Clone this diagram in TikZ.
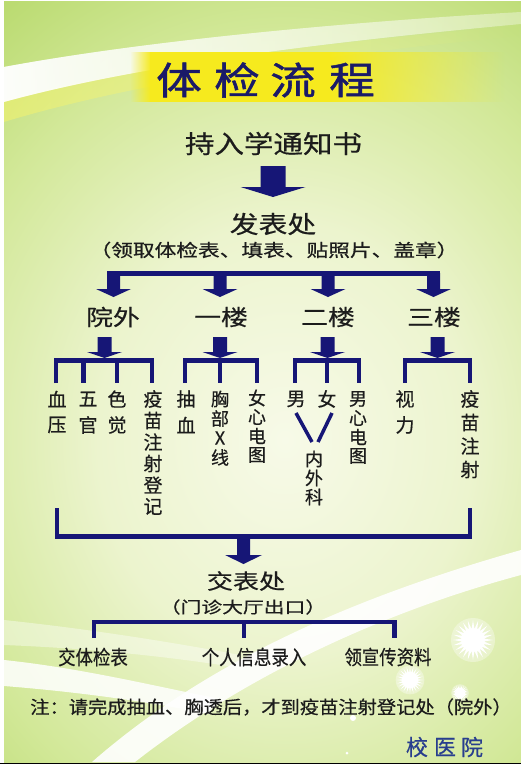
\documentclass[tikz,border=0pt]{standalone}
\usepackage{fontspec}
\usepackage{graphicx}
\usetikzlibrary{fadings}
\newfontfamily\cjk{Noto Sans CJK SC}[FakeBold=0.5]
\newfontfamily\cjkt{Noto Sans CJK SC}[FakeBold=1.2]
\definecolor{navy}{RGB}{22,22,118}
\definecolor{inkc}{RGB}{28,28,28}
\definecolor{titlec}{RGB}{26,26,104}
\definecolor{schoolc}{RGB}{40,62,142}
\definecolor{g0}{RGB}{247,250,232}
\definecolor{g1}{RGB}{236,244,206}
\definecolor{g2}{RGB}{210,232,152}
\definecolor{g3}{RGB}{176,213,96}
\definecolor{g4}{RGB}{140,196,60}
\definecolor{yellowc}{RGB}{246,234,30}
\pgfdeclareradialshading{bgshade}{\pgfpoint{0bp}{0bp}}{color(0bp)=(g0); color(9bp)=(g1); color(17bp)=(g2); color(25bp)=(g3); color(38bp)=(g4); color(50bp)=(g4)}
\tikzset{
  txt/.style={inner sep=0pt, text=inkc, font=\cjk},
  conn/.style={draw=navy, line width=4.5pt},
  titlestyle/.style={inner sep=0pt, text=titlec, font=\cjkt\fontsize{38}{38}\selectfont},
}
\newcommand\barrow[6]{%
  \fill[navy] ({#1-#5},#2) -- ({#1+#5},#2) -- ({#1+#5},#3) -- ({#1+#6},#3) -- (#1,#4) -- ({#1-#6},#3) -- ({#1-#5},#3) -- cycle;}
\newcommand\vcol[6]{%
  \foreach \c [count=\i from 0] in {#6} \node[txt, font=\cjk\fontsize{#5}{#5}\selectfont] (#1-\i) at ({#2},{#3+\i*#4}) {\c};}
\newcommand\burst[3]{%
  \fill[white, opacity=0.35] (#1,#2) circle ({#3*1.1});
  \fill[white] plot[samples at={0,7.5,...,352.5}, variable=\t] ({#1+#3*(0.775+0.225*cos(24*\t))*cos(\t)}, {#2+#3*(0.775+0.225*cos(24*\t))*sin(\t)}) -- cycle;}
\begin{document}
\begin{tikzpicture}[x=1pt,y=-1pt]
\useasboundingbox (0,0) rectangle (521,768);
\fill[white] (0,0) rectangle (521,768);
\begin{scope}
\clip (4,2) rectangle (521,762);
\shade[shading=bgshade] (-235,-160) rectangle (805,1040);
% top swoosh
\fill[yellow!60!white, opacity=0.45, path fading=east] (4,100) .. controls (150,62) and (350,40) .. (521,26) -- (521,36) .. controls (350,52) and (150,78) .. (4,122) -- cycle;
\fill[white, opacity=0.95, path fading=east] (4,67) .. controls (150,40) and (350,22) .. (521,12) -- (521,24) .. controls (350,40) and (150,62) .. (4,102) -- cycle;
\fill[white, opacity=0.35] (4,67) .. controls (150,40) and (350,22) .. (521,12) -- (521,24) .. controls (350,40) and (150,62) .. (4,102) -- cycle;
% title band
\fill[yellowc] (150,52) rectangle (330,102);
\fill[yellowc, path fading=east] (329,52) rectangle (505,102);
\fill[yellowc, path fading=west] (130,52) rectangle (151,102);
% bottom swooshes
\fill[white, opacity=0.4] (4,620) .. controls (80,628) and (160,640) .. (240,655) -- (240,668) .. controls (160,655) and (80,648) .. (4,645) -- cycle;
\fill[white, opacity=0.85] (4,660) .. controls (80,668) and (150,685) .. (215,698) -- (210,714) .. controls (150,702) and (80,692) .. (4,686) -- cycle;
\fill[white, opacity=0.9] (521,550) .. controls (380,590) and (220,650) .. (92,762) -- (135,762) .. controls (250,672) and (390,610) .. (521,575) -- cycle;
% stars
\burst{473}{640}{20}
\burst{410}{680}{13}
\burst{460}{693}{8}
\fill[white] (353,718) circle (3);
\fill[white] (347,753) circle (1.5);
\end{scope}
\draw[black, line width=1.5pt] (0,763.5) -- (521,763.5);
% title
\foreach \c/\x in {体/179,检/237,流/293,程/352} \node[titlestyle] (title\x) at (\x,80) {\scalebox{1.2}[1]{\c}};
% top flow
\node[txt, font=\cjk\fontsize{25}{25}\selectfont] (hold) at (273.5,143.5) {\scalebox{1.18}[1]{持入学通知书}};
\barrow{273}{166}{187}{197}{12.5}{32.5}
\node[txt, font=\cjk\fontsize{24}{24}\selectfont] (fabiao) at (273,224) {\scalebox{1.2}[1]{发表处}};
\node[txt, font=\cjk\fontsize{17.5}{17.5}\selectfont] (fabiaonote) at (274,250) {\scalebox{1.24}[1]{（领取体检表、填表、贴照片、盖章）}};
% distribution bar
\draw[conn] (107,273.5) -- (440,273.5);
\barrow{113.5}{273}{289}{297}{6.5}{17.5}
\barrow{220}{273}{289}{297}{6.5}{17.5}
\barrow{328}{273}{289}{297}{6.5}{17.5}
\barrow{433.5}{273}{289}{297}{6.5}{17.5}
\foreach \t/\x/\n in {院外/113/yw,一楼/221/l1,二楼/328/l2,三楼/434/l3}
  \node[txt, font=\cjk\fontsize{22}{22}\selectfont] (\n) at (\x,317) {\scalebox{1.22}[1]{\t}};
% sub arrows
\barrow{104.5}{337}{352}{358}{7}{17.5}
\barrow{220}{337}{352}{358}{7}{17.5}
\barrow{327.5}{337}{352}{358}{7}{17.5}
\barrow{437.5}{337}{352}{358}{7}{17.5}
% sub brackets
\draw[conn] (56,383) -- (56,360.5) -- (152,360.5) -- (152,383);
\draw[conn] (83.5,360.5) -- (83.5,383);
\draw[conn] (117,360.5) -- (117,383);
\draw[conn] (185,383) -- (185,360.5) -- (257,360.5) -- (257,383);
\draw[conn] (220,360.5) -- (220,383);
\draw[conn] (295,383) -- (295,360.5) -- (359,360.5) -- (359,383);
\draw[conn] (327,360.5) -- (327,383);
\draw[conn] (405,383) -- (405,360.5) -- (470,360.5) -- (470,383);
% vertical columns
\vcol{xy}{57}{399}{26}{19}{血,压}
\vcol{wg}{88}{399}{26}{19}{五,官}
\vcol{sj}{117}{399}{26}{19}{色,觉}
\vcol{ym}{153}{399}{21.5}{19}{疫,苗,注,射,登,记}
\vcol{cx}{186}{399}{26}{19}{抽,血}
\vcol{xb}{220}{399}{19.5}{18}{胸,部,X,线}
\vcol{nx}{257}{398}{19}{18}{女,心,电,图}
\node[txt, font=\cjk\fontsize{19}{19}\selectfont] (nan) at (296,399) {男};
\node[txt, font=\cjk\fontsize{19}{19}\selectfont] (nv) at (327,399) {女};
\vcol{mx}{358}{399}{19}{18}{男,心,电,图}
\vcol{nw}{314}{459}{19}{18}{内,外,科}
\vcol{sl}{405}{399}{26}{19}{视,力}
\vcol{yz}{470}{399}{23.5}{19}{疫,苗,注,射}
\draw[navy, line width=3.5pt] (296,413) -- (312,442);
\draw[navy, line width=3.5pt] (332,413) -- (318,442);
% collecting bracket
\draw[conn] (57,508) -- (57,536.5) -- (470,536.5) -- (470,508);
\barrow{243.5}{536}{555}{564}{6.5}{18.5}
\node[txt, font=\cjk\fontsize{21}{21}\selectfont] (jiaobiao) at (246,581) {\scalebox{1.24}[1]{交表处}};
\node[txt, font=\cjk\fontsize{16}{16}\selectfont] (jiaonote) at (243,607) {\scalebox{1.3}[1]{（门诊大厅出口）}};
\draw[conn] (94,638) -- (94,622) -- (394.5,622) -- (394.5,638);
\draw[conn] (244,622) -- (244,638);
\node[txt, font=\cjk\fontsize{20}{20}\selectfont] (b1) at (93,657) {\scalebox{0.87}[1]{交体检表}};
\node[txt, font=\cjk\fontsize{20}{20}\selectfont] (b2) at (254,657) {\scalebox{0.87}[1]{个人信息录入}};
\node[txt, font=\cjk\fontsize{20}{20}\selectfont] (b3) at (388,657) {\scalebox{0.87}[1]{领宣传资料}};
\node[txt, font=\cjk\fontsize{18}{18}\selectfont] (note) at (271,707) {\scalebox{1.07}[1]{注：请完成抽血、胸透后，才到疫苗注射登记处（院外）}};
\foreach \c/\x in {校/417,医/445,院/472} \node[inner sep=0pt, text=schoolc, font=\cjk\fontsize{22}{22}\selectfont] (s\x) at (\x,747) {\c};
\end{tikzpicture}
\end{document}
